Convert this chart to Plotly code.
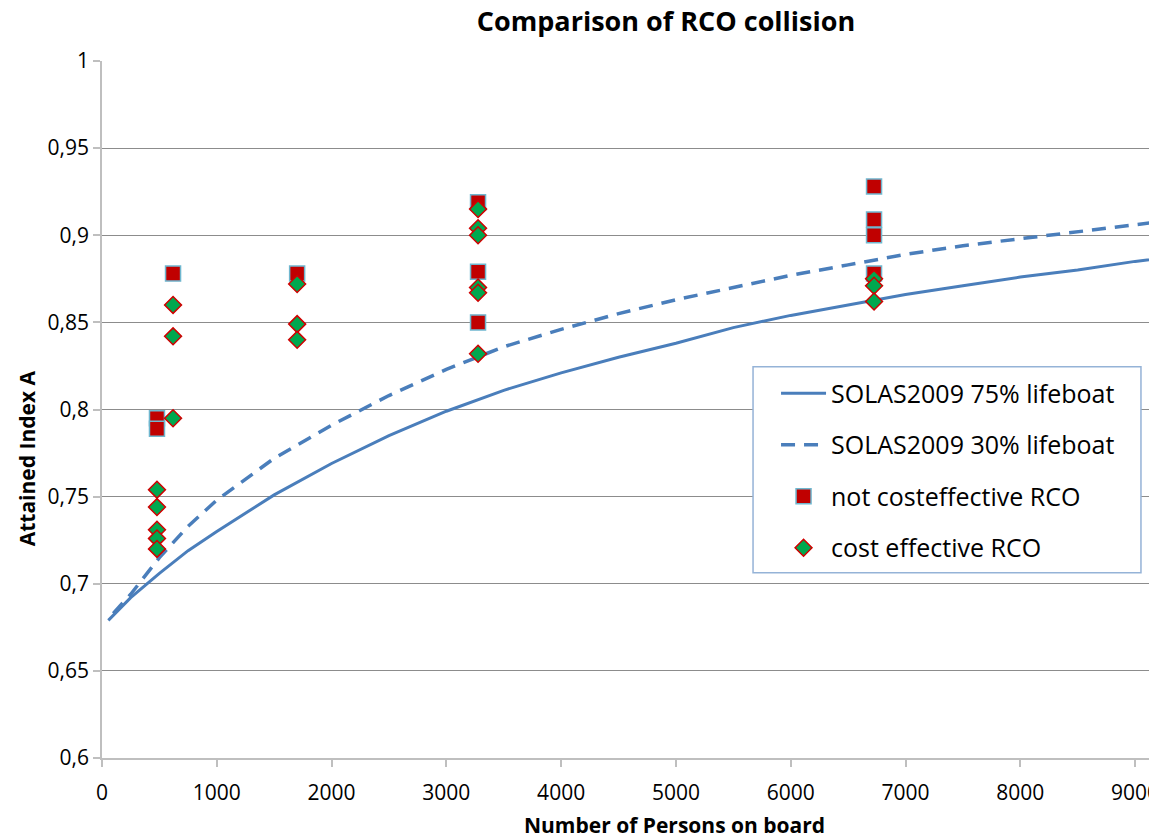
import plotly.graph_objects as go

# ---- data ----
solas75_x = [55, 100, 250, 500, 750, 1000, 1500, 2000, 2500, 3000, 3500, 4000, 4500,
             5000, 5500, 6000, 6500, 7000, 7500, 8000, 8500, 9000, 9500]
solas75_y = [0.679, 0.682, 0.692, 0.706, 0.719, 0.730, 0.751, 0.769, 0.785, 0.799, 0.811,
             0.821, 0.830, 0.838, 0.847, 0.854, 0.860, 0.866, 0.871, 0.876, 0.880, 0.885, 0.889]

solas30_x = [98, 250, 500, 750, 1000, 1500, 2000, 2500, 3000, 3500, 4000, 4500,
             5000, 5500, 6000, 6500, 7000, 7500, 8000, 8500, 9000, 9500]
solas30_y = [0.683, 0.694, 0.715, 0.733, 0.748, 0.772, 0.791, 0.808, 0.823, 0.836, 0.846,
             0.855, 0.863, 0.870, 0.877, 0.883, 0.889, 0.894, 0.898, 0.902, 0.906, 0.910]

notcost_x = [479, 479, 619, 1700, 3276, 3276, 3276, 6726, 6726, 6726, 6726]
notcost_y = [0.795, 0.789, 0.878, 0.878, 0.919, 0.879, 0.850, 0.928, 0.909, 0.900, 0.878]

cost_x = [479, 479, 479, 479, 479, 619, 619, 619, 1700, 1700, 1700,
          3276, 3276, 3276, 3276, 3276, 3276, 6726, 6726, 6726]
cost_y = [0.754, 0.744, 0.731, 0.726, 0.720, 0.860, 0.842, 0.795, 0.872, 0.849, 0.840,
          0.915, 0.904, 0.900, 0.870, 0.867, 0.832, 0.875, 0.871, 0.862]

x_ticks = [0, 1000, 2000, 3000, 4000, 5000, 6000, 7000, 8000, 9000]
x_tick_labels = ["0", "1000", "2000", "3000", "4000", "5000", "6000", "7000", "8000", "9000"]
y_ticks = [0.6, 0.65, 0.7, 0.75, 0.8, 0.85, 0.9, 0.95, 1.0]
y_tick_labels = ["0,6", "0,65", "0,7", "0,75", "0,8", "0,85", "0,9", "0,95", "1"]

FONT = "Open Sans"
LINE_BLUE = "#4A7EBB"

fig = go.Figure()
fig.add_trace(go.Scatter(x=solas75_x, y=solas75_y, mode="lines", name="SOLAS2009 75% lifeboat",
                         line=dict(color=LINE_BLUE, width=3), legendgroup="a"))
fig.add_trace(go.Scatter(x=solas30_x, y=solas30_y, mode="lines", name="SOLAS2009 30% lifeboat",
                         line=dict(color=LINE_BLUE, width=3.5, dash="14px,9px"), legendgroup="b"))
fig.add_trace(go.Scatter(x=notcost_x, y=notcost_y, mode="markers", name="not costeffective RCO",
                         marker=dict(symbol="square", size=15, color="#C00000",
                                     line=dict(color="#6FB7CF", width=1.5)), legendgroup="c"))
fig.add_trace(go.Scatter(x=cost_x, y=cost_y, mode="markers", name="cost effective RCO",
                         marker=dict(symbol="diamond", size=13, color="#00A84F",
                                     line=dict(color="#D00000", width=1.5)), legendgroup="d"))

# legend frame (Excel-style wide box)
fig.add_shape(type="rect", xref="paper", yref="paper",
              x0=0.6171, x1=0.9848, y0=0.2659, y1=0.5614,
              line=dict(color="#95B3D7", width=1.5), fillcolor="white", layer="above")

# axis titles
fig.add_annotation(text="<b>Number of Persons on board</b>", xref="paper", yref="paper",
                   x=0.5431, y=-0.0957, xanchor="center", yanchor="middle", showarrow=False,
                   font=dict(family=FONT, size=21, color="#000000"))
fig.add_annotation(text="<b>Attained Index A</b>", xref="paper", yref="paper",
                   x=-0.0711, y=0.43, xanchor="center", yanchor="middle", showarrow=False,
                   textangle=-90, font=dict(family=FONT, size=21, color="#000000"))

fig.update_layout(
    width=1149, height=828,
    paper_bgcolor="white", plot_bgcolor="white",
    margin=dict(l=94, r=0, t=53, b=78),
    font=dict(family=FONT, size=21, color="#000000"),
    title=dict(text="<b>Comparison of RCO collision</b>", x=0.5727, xanchor="center",
               y=0.984, yanchor="middle", font=dict(family=FONT, size=27, color="#000000")),
    xaxis=dict(range=[0, 9191], tickvals=x_ticks, ticktext=x_tick_labels,
               showgrid=False, zeroline=False, showline=True, linecolor="#BFBFBF", linewidth=1.5,
               ticks="outside", ticklen=7, tickcolor="#BFBFBF", tickwidth=1.5,
               tickfont=dict(family=FONT, size=21), ticklabeloverflow="allow",
               ticklabelstandoff=8, automargin=False),
    yaxis=dict(range=[0.6, 1.0], tickvals=y_ticks, ticktext=y_tick_labels,
               showgrid=True, gridcolor="#8C8C8C", gridwidth=1,
               zeroline=False, showline=True, linecolor="#BFBFBF", linewidth=1.5,
               ticks="outside", ticklen=7, tickcolor="#BFBFBF", tickwidth=1.5,
               tickfont=dict(family=FONT, size=21), automargin=False),
    legend=dict(x=0.6389, y=0.556, xanchor="left", yanchor="top",
                bgcolor="rgba(0,0,0,0)", borderwidth=0,
                font=dict(family=FONT, size=25, color="#000000"),
                tracegroupgap=16, itemwidth=45),
    showlegend=True,
)

fig.write_html("out.html")
